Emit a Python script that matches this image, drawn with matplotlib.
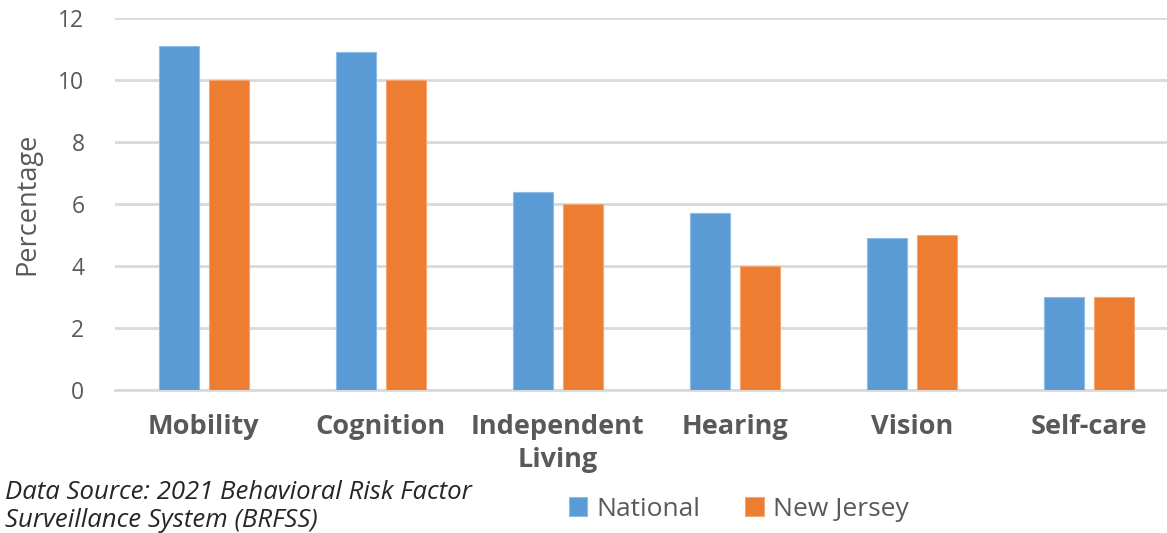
import numpy as np
import matplotlib.pyplot as plt

categories = ['Mobility', 'Cognition', 'Independent\nLiving', 'Hearing', 'Vision', 'Self-care']
national = [11.1, 10.9, 6.4, 5.7, 4.9, 3.0]
new_jersey = [10.0, 10.0, 6.0, 4.0, 5.0, 3.0]

blue = '#5B9BD5'
orange = '#ED7D31'
grey = '#595959'

plt.rcParams['font.family'] = ['Open Sans', 'DejaVu Sans']

fig = plt.figure(figsize=(11.67, 5.33), dpi=100)
ax = fig.add_axes([115 / 1167, 143 / 533, 1 - 115 / 1167, 372 / 533])

x = np.arange(len(categories))
w = 0.226
ax.bar(x - 0.141, national, w, color=blue, edgecolor='#8FBCE6', linewidth=0.8, label='National', zorder=3)
ax.bar(x + 0.141, new_jersey, w, color=orange, edgecolor='#F4A774', linewidth=0.8, label='New Jersey', zorder=3)

ax.set_ylim(0, 12)
ax.set_xlim(-0.5, 5.44)
ax.set_yticks(np.arange(0, 13, 2))
ax.yaxis.grid(True, color='#D9D9D9', linewidth=2, zorder=0)
ax.set_axisbelow(True)
for s in ['top', 'right', 'left']:
    ax.spines[s].set_visible(False)
ax.spines['bottom'].set_color('#D9D9D9')
ax.spines['bottom'].set_linewidth(2)
ax.tick_params(axis='both', length=0)
ax.tick_params(axis='y', labelsize=16.5, labelcolor=grey, pad=22)
ax.set_xticks(x)
ax.set_xticklabels(categories, fontsize=19.5, fontweight='bold', color=grey, linespacing=1.35)
ax.tick_params(axis='x', pad=17)
ax.set_ylabel('Percentage', fontsize=19.5, color=grey, labelpad=12)

fig.legend(loc='center', bbox_to_anchor=(0.633, 0.045), ncol=2, frameon=False,
           fontsize=19, handlelength=0.7, handleheight=0.7, handletextpad=0.35,
           columnspacing=1.7, labelcolor=grey)

fig.text(0.004, 0.05, 'Data Source: 2021 Behavioral Risk Factor\nSurveillance System (BRFSS)',
         fontsize=18.5, style='italic', color='#262626', va='center', ha='left', linespacing=1.15)

fig.savefig('out.png', dpi=100)
